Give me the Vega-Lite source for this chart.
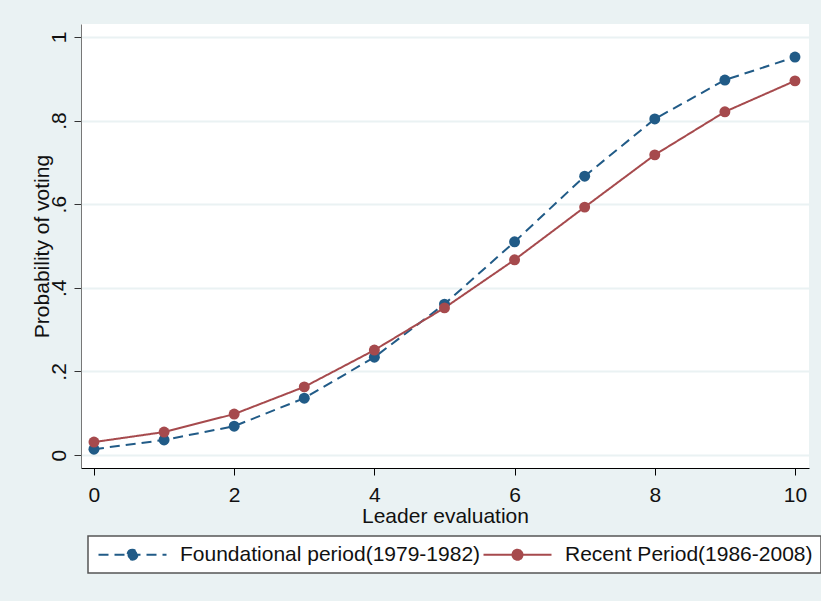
{
  "$schema": "https://vega.github.io/schema/vega-lite/v6.json",
  "autosize": {"type": "none"},
  "width": 728,
  "height": 444,
  "padding": {"left": 81, "top": 24, "right": 12, "bottom": 133},
  "background": "#EAF2F3",
  "config": {
    "view": {"fill": "white", "stroke": null},
    "font": "Liberation Sans"
  },
  "data": {"values": [
    {"x": 0, "p": 0.014, "period": "Foundational period(1979-1982)"},
    {"x": 1, "p": 0.036, "period": "Foundational period(1979-1982)"},
    {"x": 2, "p": 0.069, "period": "Foundational period(1979-1982)"},
    {"x": 3, "p": 0.136, "period": "Foundational period(1979-1982)"},
    {"x": 4, "p": 0.234, "period": "Foundational period(1979-1982)"},
    {"x": 5, "p": 0.361, "period": "Foundational period(1979-1982)"},
    {"x": 6, "p": 0.510, "period": "Foundational period(1979-1982)"},
    {"x": 7, "p": 0.667, "period": "Foundational period(1979-1982)"},
    {"x": 8, "p": 0.804, "period": "Foundational period(1979-1982)"},
    {"x": 9, "p": 0.897, "period": "Foundational period(1979-1982)"},
    {"x": 10, "p": 0.952, "period": "Foundational period(1979-1982)"},
    {"x": 0, "p": 0.031, "period": "Recent Period(1986-2008)"},
    {"x": 1, "p": 0.055, "period": "Recent Period(1986-2008)"},
    {"x": 2, "p": 0.098, "period": "Recent Period(1986-2008)"},
    {"x": 3, "p": 0.163, "period": "Recent Period(1986-2008)"},
    {"x": 4, "p": 0.251, "period": "Recent Period(1986-2008)"},
    {"x": 5, "p": 0.352, "period": "Recent Period(1986-2008)"},
    {"x": 6, "p": 0.467, "period": "Recent Period(1986-2008)"},
    {"x": 7, "p": 0.593, "period": "Recent Period(1986-2008)"},
    {"x": 8, "p": 0.718, "period": "Recent Period(1986-2008)"},
    {"x": 9, "p": 0.821, "period": "Recent Period(1986-2008)"},
    {"x": 10, "p": 0.895, "period": "Recent Period(1986-2008)"}
  ]},
  "encoding": {
    "x": {"field": "x", "type": "quantitative", "title": "Leader evaluation",
      "scale": {"domain": [-0.185, 10.2], "nice": false, "zero": false},
      "axis": {"values": [0, 2, 4, 6, 8, 10], "grid": false, "domainColor": "#000", "tickColor": "#000", "tickSize": 7, "labelPadding": 9, "titlePadding": 0, "labelFlush": false,
        "labelFont": "Liberation Sans", "titleFont": "Liberation Sans", "labelFontSize": 21, "titleFontSize": 21, "titleFontWeight": "normal", "labelColor": "#111", "titleColor": "#111"}},
    "y": {"field": "p", "type": "quantitative", "title": "Probability of voting",
      "scale": {"domain": [-0.031, 1.031], "nice": false, "zero": false},
      "axis": {"values": [0, 0.2, 0.4, 0.6, 0.8, 1], "labelAngle": -90, "labelAlign": "center", "labelBaseline": "bottom",
        "labelExpr": "replace(format(datum.value, '.1~f'), '0.', '.')",
        "grid": true, "gridColor": "#EAF2F3", "gridWidth": 2, "domainColor": "#777", "tickColor": "#333", "tickSize": 7, "labelPadding": 5, "titlePadding": -4, "labelFlush": false,
        "labelFont": "Liberation Sans", "titleFont": "Liberation Sans", "labelFontSize": 21, "titleFontSize": 21, "titleFontWeight": "normal", "labelColor": "#111", "titleColor": "#111"}},
    "color": {"field": "period", "type": "nominal", "title": null,
      "scale": {"domain": ["Foundational period(1979-1982)", "Recent Period(1986-2008)"], "range": ["#215B87", "#A64A4D"]},
      "legend": {
        "orient": "none", "legendX": 7, "legendY": 512, "direction": "horizontal",
        "fillColor": "white", "strokeColor": "#555", "padding": 8,
        "labelFont": "Liberation Sans", "labelFontSize": 21, "labelColor": "#111", "labelOffset": 63, "labelLimit": 500, "columnPadding": -7,
        "symbolType": "M-1,0L7.5,0M3.875,0A0.625,0.625 0 1,1 2.625,0A0.625,0.625 0 1,1 3.875,0Z",
        "symbolSize": 256, "symbolStrokeWidth": 2, "symbolOpacity": 1,
        "encode": {
          "legend": {"update": {"strokeWidth": {"value": 1.5}}},
          "symbols": {"update": {"fill": {"scale": "color", "field": "value"}, "stroke": {"scale": "color", "field": "value"}}}}
      }
    }
  },
  "layer": [
    {"mark": {"type": "line", "strokeWidth": 2},
     "encoding": {"strokeDash": {"field": "period", "type": "nominal", "title": null,
       "scale": {"domain": ["Foundational period(1979-1982)", "Recent Period(1986-2008)"], "range": [[10, 6], [1, 0]]}}}},
    {"mark": {"type": "point", "filled": true, "size": 120, "opacity": 1}}
  ]
}
